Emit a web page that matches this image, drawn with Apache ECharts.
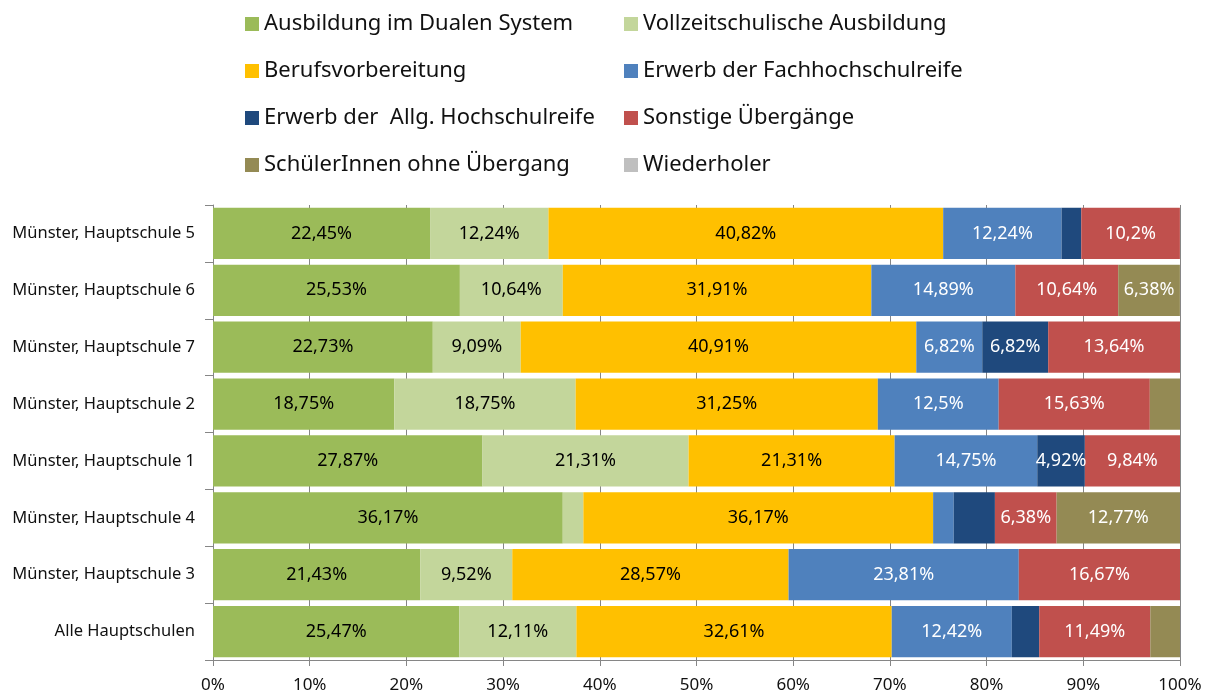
<!DOCTYPE html>
<html>
<head>
<meta charset="utf-8">
<script src="https://cdn.jsdelivr.net/npm/echarts@6/dist/echarts.min.js"></script>
<style>
  html, body { margin: 0; padding: 0; background: #fff; }
  #main { width: 1212px; height: 695px; }
</style>
</head>
<body>
<div id="main"></div>
<script>
// Kategorien von oben nach unten
var schulen = ['Münster, Hauptschule 5', 'Münster, Hauptschule 6', 'Münster, Hauptschule 7', 'Münster, Hauptschule 2',
  'Münster, Hauptschule 1', 'Münster, Hauptschule 4', 'Münster, Hauptschule 3', 'Alle Hauptschulen'];

var dual        = [22.45, 25.53, 22.73, 18.75, 27.87, 36.17, 21.43, 25.47];
var vollzeit    = [12.24, 10.64, 9.09, 18.75, 21.31, 2.13, 9.52, 12.11];
var berufsvorb  = [40.82, 31.91, 40.91, 31.25, 21.31, 36.17, 28.57, 32.61];
var fachhoch    = [12.24, 14.89, 6.82, 12.5, 14.75, 2.13, 23.81, 12.42];
var allgHoch    = [2.04, 0, 6.82, 0, 4.92, 4.26, 0, 2.83];
var sonstige    = [10.2, 10.64, 13.64, 15.63, 9.84, 6.38, 16.67, 11.49];
var ohne        = [0, 6.38, 0, 3.12, 0, 12.77, 0, 3.07];
var wiederholer = [0, 0, 0, 0, 0, 0, 0, 0];

var xTicks = [0, 10, 20, 30, 40, 50, 60, 70, 80, 90, 100];

var font = 'Noto Sans';

function mkSeries(name, data, color, textColor) {
  return {
    name: name,
    type: 'bar',
    stack: 'gesamt',
    data: data,
    barCategoryGap: '10%',
    itemStyle: { color: color },
    label: {
      show: true,
      position: 'inside',
      color: textColor,
      fontFamily: font,
      fontSize: 18,
      formatter: function (p) {
        if (p.value < 4.5) return '';
        return String(p.value).replace('.', ',') + '%';
      }
    }
  };
}

var legendText = { fontSize: 22, color: '#111', fontFamily: font, lineHeight: 26 };

var myChart = echarts.init(document.getElementById('main'));
var option = {
  animation: false,
  textStyle: { fontFamily: font },
  legend: [
    {
      orient: 'vertical',
      left: 245,
      top: 11,
      padding: 0,
      itemWidth: 14,
      itemHeight: 14,
      itemGap: 21,
      icon: 'rect',
      textStyle: legendText,
      data: ['Ausbildung im Dualen System', 'Berufsvorbereitung', 'Erwerb der  Allg. Hochschulreife', 'SchülerInnen ohne Übergang']
    },
    {
      orient: 'vertical',
      left: 624,
      top: 11,
      padding: 0,
      itemWidth: 14,
      itemHeight: 14,
      itemGap: 21,
      icon: 'rect',
      textStyle: legendText,
      data: ['Vollzeitschulische Ausbildung', 'Erwerb der Fachhochschulreife', 'Sonstige Übergänge', 'Wiederholer']
    }
  ],
  grid: { left: 213, right: 32, top: 205, bottom: 35, containLabel: false },
  xAxis: {
    type: 'value',
    min: xTicks[0],
    max: xTicks[xTicks.length - 1],
    interval: 10,
    axisLine: { show: true, lineStyle: { color: '#868686' } },
    axisTick: { show: true, length: 6, lineStyle: { color: '#868686' } },
    splitLine: { show: true, lineStyle: { color: '#868686', width: 1 } },
    axisLabel: { color: '#111', fontSize: 17, fontFamily: font, margin: 17, formatter: '{value}%' }
  },
  yAxis: {
    type: 'category',
    inverse: true,
    data: schulen,
    axisLine: { show: true, lineStyle: { color: '#868686' } },
    axisTick: { show: true, length: 8, lineStyle: { color: '#868686' } },
    axisLabel: { color: '#111', fontSize: 16.5, fontFamily: font, margin: 18 }
  },
  series: [
    mkSeries('Ausbildung im Dualen System', dual, '#9BBB59', '#000'),
    mkSeries('Vollzeitschulische Ausbildung', vollzeit, '#C3D69B', '#000'),
    mkSeries('Berufsvorbereitung', berufsvorb, '#FFC000', '#000'),
    mkSeries('Erwerb der Fachhochschulreife', fachhoch, '#4F81BD', '#fff'),
    mkSeries('Erwerb der  Allg. Hochschulreife', allgHoch, '#1F497D', '#fff'),
    mkSeries('Sonstige Übergänge', sonstige, '#C0504D', '#fff'),
    mkSeries('SchülerInnen ohne Übergang', ohne, '#948A54', '#fff'),
    mkSeries('Wiederholer', wiederholer, '#BFBFBF', '#000')
  ]
};
myChart.setOption(option);
</script>
</body>
</html>
